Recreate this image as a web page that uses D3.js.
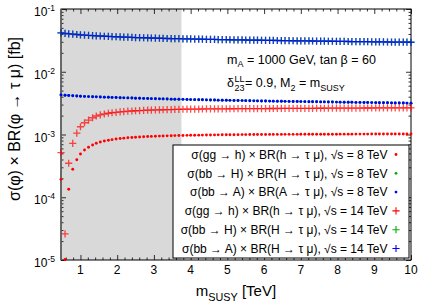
<!DOCTYPE html>
<html>
<head>
<meta charset="utf-8">
<script src="https://cdn.jsdelivr.net/npm/d3@7"></script>
<style>
  html, body { margin: 0; padding: 0; background: #fff; }
  svg text { font-family: "Liberation Sans", Arial, Helvetica, sans-serif; fill: #000; }
</style>
</head>
<body>
<div id="chart"></div>
<script>
// m_SUSY scan, sigma x BR(phi -> tau mu), log y axis

// sample points in m_SUSY [TeV]
const mSusy = [0.47,0.58,0.68,0.79,0.90,1.00,1.11,1.22,1.33,1.43,
  1.54,1.65,1.76,1.86,1.97,2.08,2.18,2.29,2.40,2.50,
  2.61,2.72,2.83,2.93,3.04,3.15,3.25,3.36,3.47,3.57,
  3.68,3.79,3.90,4.00,4.11,4.22,4.32,4.43,4.54,4.65,
  4.75,4.86,4.97,5.07,5.18,5.29,5.40,5.50,5.61,5.72,
  5.82,5.93,6.04,6.15,6.25,6.36,6.47,6.57,6.68,6.79,
  6.90,7.00,7.11,7.22,7.32,7.43,7.54,7.64,7.75,7.86,
  7.97,8.07,8.18,8.29,8.39,8.50,8.61,8.72,8.82,8.93,
  9.04,9.14,9.25,9.36,9.47,9.57,9.68,9.79,9.89,10.00];

// sqrt(s) = 8 TeV
const ggh8 = [1.93e-4,1.02e-5,1.34e-4,2.79e-4,3.97e-4,4.89e-4,5.66e-4,6.25e-4,6.80e-4,7.24e-4,
  7.60e-4,7.87e-4,8.09e-4,8.28e-4,8.46e-4,8.62e-4,8.75e-4,8.86e-4,8.96e-4,9.05e-4,
  9.13e-4,9.20e-4,9.27e-4,9.33e-4,9.38e-4,9.43e-4,9.48e-4,9.52e-4,9.56e-4,9.60e-4,
  9.63e-4,9.66e-4,9.69e-4,9.72e-4,9.74e-4,9.77e-4,9.79e-4,9.81e-4,9.83e-4,9.85e-4,
  9.87e-4,9.89e-4,9.90e-4,9.92e-4,9.93e-4,9.95e-4,9.96e-4,9.97e-4,9.99e-4,1.000e-3,
  1.001e-3,1.002e-3,1.002e-3,1.003e-3,1.003e-3,1.004e-3,1.004e-3,1.005e-3,1.005e-3,1.006e-3,
  1.006e-3,1.007e-3,1.007e-3,1.008e-3,1.008e-3,1.009e-3,1.009e-3,1.010e-3,1.010e-3,1.011e-3,
  1.011e-3,1.012e-3,1.012e-3,1.013e-3,1.013e-3,1.014e-3,1.014e-3,1.015e-3,1.015e-3,1.016e-3,
  1.016e-3,1.017e-3,1.017e-3,1.018e-3,1.018e-3,1.019e-3,1.019e-3,1.020e-3,1.020e-3,1.021e-3];
const bbA8 = [4.26e-3,4.22e-3,4.18e-3,4.14e-3,4.11e-3,4.08e-3,4.05e-3,4.02e-3,4.00e-3,3.98e-3,
  3.96e-3,3.94e-3,3.92e-3,3.90e-3,3.88e-3,3.86e-3,3.84e-3,3.83e-3,3.81e-3,3.79e-3,
  3.78e-3,3.76e-3,3.75e-3,3.73e-3,3.72e-3,3.70e-3,3.69e-3,3.68e-3,3.66e-3,3.65e-3,
  3.64e-3,3.63e-3,3.61e-3,3.60e-3,3.59e-3,3.58e-3,3.57e-3,3.56e-3,3.55e-3,3.54e-3,
  3.53e-3,3.52e-3,3.51e-3,3.50e-3,3.49e-3,3.48e-3,3.47e-3,3.46e-3,3.45e-3,3.44e-3,
  3.43e-3,3.42e-3,3.41e-3,3.405e-3,3.40e-3,3.39e-3,3.38e-3,3.375e-3,3.37e-3,3.36e-3,
  3.35e-3,3.345e-3,3.34e-3,3.33e-3,3.325e-3,3.32e-3,3.31e-3,3.305e-3,3.30e-3,3.29e-3,
  3.285e-3,3.28e-3,3.27e-3,3.265e-3,3.26e-3,3.25e-3,3.245e-3,3.24e-3,3.23e-3,3.225e-3,
  3.22e-3,3.21e-3,3.205e-3,3.20e-3,3.19e-3,3.185e-3,3.18e-3,3.17e-3,3.165e-3,3.16e-3];
// bb -> H sits exactly under bb -> A in the picture
const bbH8 = bbA8.slice();

// sqrt(s) = 14 TeV
const ggh14 = [5.13e-4,2.6e-5,3.48e-4,7.24e-4,1.05e-3,1.33e-3,1.54e-3,1.70e-3,1.85e-3,1.97e-3,
  2.05e-3,2.12e-3,2.18e-3,2.22e-3,2.26e-3,2.29e-3,2.32e-3,2.35e-3,2.37e-3,2.39e-3,
  2.41e-3,2.42e-3,2.44e-3,2.45e-3,2.46e-3,2.47e-3,2.48e-3,2.49e-3,2.50e-3,2.51e-3,
  2.52e-3,2.525e-3,2.53e-3,2.535e-3,2.54e-3,2.545e-3,2.55e-3,2.553e-3,2.556e-3,2.559e-3,
  2.562e-3,2.565e-3,2.568e-3,2.571e-3,2.574e-3,2.577e-3,2.58e-3,2.582e-3,2.584e-3,2.586e-3,
  2.588e-3,2.59e-3,2.592e-3,2.594e-3,2.596e-3,2.598e-3,2.60e-3,2.602e-3,2.604e-3,2.606e-3,
  2.608e-3,2.61e-3,2.612e-3,2.614e-3,2.616e-3,2.618e-3,2.62e-3,2.622e-3,2.624e-3,2.626e-3,
  2.628e-3,2.63e-3,2.632e-3,2.634e-3,2.636e-3,2.638e-3,2.64e-3,2.642e-3,2.644e-3,2.646e-3,
  2.648e-3,2.65e-3,2.652e-3,2.653e-3,2.654e-3,2.655e-3,2.656e-3,2.657e-3,2.658e-3,2.66e-3];
const bbA14 = [4.15e-2,4.08e-2,4.02e-2,3.97e-2,3.92e-2,3.88e-2,3.84e-2,3.80e-2,3.77e-2,3.74e-2,
  3.71e-2,3.68e-2,3.66e-2,3.63e-2,3.61e-2,3.59e-2,3.57e-2,3.55e-2,3.53e-2,3.51e-2,
  3.49e-2,3.48e-2,3.46e-2,3.45e-2,3.43e-2,3.42e-2,3.41e-2,3.39e-2,3.38e-2,3.37e-2,
  3.36e-2,3.35e-2,3.34e-2,3.33e-2,3.32e-2,3.31e-2,3.30e-2,3.29e-2,3.28e-2,3.27e-2,
  3.26e-2,3.25e-2,3.24e-2,3.235e-2,3.23e-2,3.22e-2,3.21e-2,3.205e-2,3.20e-2,3.19e-2,
  3.18e-2,3.175e-2,3.17e-2,3.16e-2,3.155e-2,3.15e-2,3.14e-2,3.135e-2,3.13e-2,3.12e-2,
  3.115e-2,3.11e-2,3.10e-2,3.095e-2,3.09e-2,3.085e-2,3.08e-2,3.07e-2,3.065e-2,3.06e-2,
  3.055e-2,3.05e-2,3.04e-2,3.035e-2,3.03e-2,3.025e-2,3.02e-2,3.015e-2,3.01e-2,3.00e-2,
  2.995e-2,2.99e-2,2.985e-2,2.98e-2,2.975e-2,2.97e-2,2.965e-2,2.96e-2,2.955e-2,2.95e-2];
const bbH14 = bbA14.slice();

const legendLabels = [
  'σ(gg → h) × BR(h → τ μ), √s = 8 TeV',
  'σ(bb → H) × BR(H → τ μ), √s = 8 TeV',
  'σ(bb → A) × BR(A → τ μ), √s = 8 TeV',
  'σ(gg → h) × BR(h → τ μ), √s = 14 TeV',
  'σ(bb → H) × BR(H → τ μ), √s = 14 TeV',
  'σ(bb → A) × BR(H → τ μ), √s = 14 TeV'
];
const xTicks = [1,2,3,4,5,6,7,8,9,10];
const yTicks = [1e-5,1e-4,1e-3,1e-2,1e-1];
const yTickExp = ['-5','-4','-3','-2','-1'];
const excludedUpTo = 3.75; // grey band

const RED = '#ff0000', GREEN = '#00b000', BLUE = '#0000ff';
const series = [
  {values: ggh8,  color: RED,   mark: 'dot'},
  {values: bbH8,  color: GREEN, mark: 'dot'},
  {values: bbA8,  color: BLUE,  mark: 'dot'},
  {values: ggh14, color: RED,   mark: 'plus'},
  {values: bbH14, color: GREEN, mark: 'plus'},
  {values: bbA14, color: BLUE,  mark: 'plus'}
];

const W = 436, H = 305;
const L = 61, R = 411, T = 9, B = 260;

const svg = d3.select('#chart').append('svg')
  .attr('width', W).attr('height', H)
  .style('display', 'block');

const x = d3.scaleLinear().domain([mSusy[0], 10]).range([L, R]);
const y = d3.scaleLog().domain([1e-5, 1e-1]).range([B, T]);

// grey band
svg.append('rect')
  .attr('x', x(mSusy[0])).attr('y', T)
  .attr('width', x(excludedUpTo) - x(mSusy[0])).attr('height', B - T)
  .attr('fill', '#d9d9d9');

// ticks (inward, all four sides)
const yMinor = y.ticks().filter(v => yTicks.indexOf(v) < 0);
const xMinor = d3.range(0.6, 10.001, 0.2).filter(v => Math.abs(v - Math.round(v)) > 0.01);

function tickAxis(axisFn, scale, vals, size, tx, ty){
  const g = svg.append('g').attr('transform', `translate(${tx},${ty})`)
    .call(axisFn(scale).tickValues(vals).tickSize(-size).tickSizeOuter(0).tickFormat(''));
  g.select('.domain').remove();
  g.selectAll('.tick line').attr('stroke', '#000').attr('stroke-width', 0.8);
  return g;
}
tickAxis(d3.axisLeft, y, yTicks, 5, L, 0);
tickAxis(d3.axisLeft, y, yMinor, 2.5, L, 0);
tickAxis(d3.axisRight, y, yTicks, 5, R, 0);
tickAxis(d3.axisRight, y, yMinor, 2.5, R, 0);
tickAxis(d3.axisBottom, x, xTicks, 5, 0, B);
tickAxis(d3.axisBottom, x, xMinor, 2.5, 0, B);
tickAxis(d3.axisTop, x, xTicks, 5, 0, T);
tickAxis(d3.axisTop, x, xMinor, 2.5, 0, T);

// frame
svg.append('rect')
  .attr('x', L).attr('y', T).attr('width', R - L).attr('height', B - T)
  .attr('fill', 'none').attr('stroke', '#000').attr('stroke-width', 1);
svg.append('line')
  .attr('x1', L).attr('x2', L).attr('y1', T).attr('y2', B)
  .attr('stroke', '#666').attr('stroke-width', 1.6);

// tick labels
svg.append('g').selectAll('text')
  .data(xTicks).join('text')
  .attr('x', d => x(d)).attr('y', 274)
  .attr('text-anchor', 'middle')
  .attr('font-size', 12)
  .text(d => d);

const yl = svg.append('g').selectAll('text')
  .data(yTicks).join('text')
  .attr('x', 55).attr('y', d => y(d) + 7)
  .attr('text-anchor', 'end')
  .attr('font-size', 12);
yl.append('tspan').text('10');
yl.append('tspan').attr('dy', -5).attr('font-size', 8.5).text((d, i) => yTickExp[i]);

// rich text helper: parts = [[str, 'n'|'sub'|'sup'], ...]
function rich(sel, parts, size){
  let shift = 0;
  parts.forEach(([s, k]) => {
    const tgt = k === 'sub' ? size * 0.3 : k === 'sup' ? -size * 0.42 : 0;
    sel.append('tspan')
      .attr('dy', tgt - shift)
      .attr('font-size', k === 'n' ? size : size * 0.72)
      .text(s);
    shift = tgt;
  });
  return sel;
}

// axis titles
rich(svg.append('text')
  .attr('x', (L + R) / 2).attr('y', 296)
  .attr('text-anchor', 'middle'),
  [['m', 'n'], ['SUSY', 'sub'], [' [TeV]', 'n']], 15);

svg.append('text')
  .attr('transform', 'translate(20,119) rotate(-90)')
  .attr('text-anchor', 'middle')
  .attr('font-size', 16)
  .text('σ(φ) × BR(φ → τ μ) [fb]');

// annotation
rich(svg.append('text').attr('x', 227).attr('y', 63.5),
  [['m', 'n'], ['A', 'sub'], [' = 1000 GeV, tan β = 60', 'n']], 12.5);

(function(){
  const x0 = 227, base = 87, fs = 12.5;
  const d = svg.append('text').attr('x', x0).attr('y', base).attr('font-size', fs).text('δ');
  const w = d.node().getComputedTextLength();
  const sup = svg.append('text').attr('x', x0 + w + 0.5).attr('y', base - 5.5)
    .attr('font-size', fs * 0.72).text('LL');
  const sub = svg.append('text').attr('x', x0 + w + 0.5).attr('y', base + 3.5)
    .attr('font-size', fs * 0.72).text('23');
  const ws = Math.max(sup.node().getComputedTextLength(), sub.node().getComputedTextLength());
  rich(svg.append('text').attr('x', x0 + w + ws + 1).attr('y', base),
    [[' = 0.9, M', 'n'], ['2', 'sub'], [' = m', 'n'], ['SUSY', 'sub']], fs);
})();

// data
const plusPath = s => `M${-s},0H${s}M0,${-s}V${s}`;
series.forEach(sr => {
  const pts = sr.values.map((v, i) => [mSusy[i], v]);
  const g = svg.append('g');
  if (sr.mark === 'dot') {
    g.selectAll('circle').data(pts).join('circle')
      .attr('cx', d => x(d[0])).attr('cy', d => y(d[1]))
      .attr('r', 1.45).attr('fill', sr.color);
  } else {
    g.selectAll('path').data(pts).join('path')
      .attr('transform', d => `translate(${x(d[0])},${y(d[1])})`)
      .attr('d', plusPath(3.6))
      .attr('stroke', sr.color).attr('stroke-width', 1.3)
      .attr('stroke-opacity', 0.7).attr('fill', 'none');
  }
});

// legend
const lg = svg.append('g');
lg.append('rect')
  .attr('x', 173).attr('y', 145).attr('width', 236).attr('height', 113)
  .attr('fill', '#fff').attr('stroke', '#000').attr('stroke-width', 1);
const rows = lg.selectAll('g.row').data(series).join('g')
  .attr('class', 'row')
  .attr('transform', (d, i) => `translate(0,${154.5 + i * 18.8})`);
rows.append('text')
  .attr('x', 387.5).attr('y', 4.2)
  .attr('text-anchor', 'end').attr('font-size', 12)
  .text((d, i) => legendLabels[i]);
rows.filter(d => d.mark === 'dot').append('circle')
  .attr('cx', 396).attr('cy', 0).attr('r', 1.4).attr('fill', d => d.color);
rows.filter(d => d.mark === 'plus').append('path')
  .attr('transform', 'translate(396,0)')
  .attr('d', plusPath(3.6))
  .attr('stroke', d => d.color).attr('stroke-width', 1.1).attr('fill', 'none');
</script>
</body>
</html>
